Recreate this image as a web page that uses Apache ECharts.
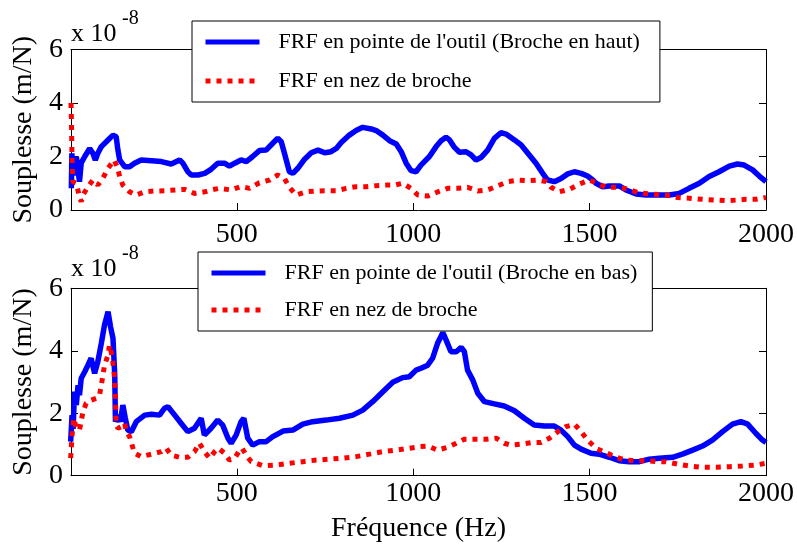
<!DOCTYPE html>
<html><head><meta charset="utf-8">
<script src="https://cdn.jsdelivr.net/npm/echarts@6/dist/echarts.min.js"></script>
<style>html,body{margin:0;padding:0;background:#fff}#c{width:797px;height:545px}</style>
</head><body><div id="c"></div>
<script>
// ---- tick labels ----
const xTicks = [500, 1000, 1500, 2000];
const yTicks = [0, 2, 4, 6];

// ---- top plot (Broche en haut), values in 1e-8 m/N ----
const topToolHz = [31,32.5,36,40,45,50,54,59,69,83,92,99,106,116,130,149,158,163,168,182,196,210,229,258,286,314,338,347,361,371,390,409,427,446,465,479,494,512,527,545,564,583,597,616,626,635,649,659,673,692,711,730,749,767,782,796,819,838,857,881,895,914,933,952,966,980,994,1008,1022,1046,1065,1079,1093,1103,1117,1131,1150,1164,1178,1192,1211,1230,1249,1263,1287,1306,1325,1348,1367,1381,1400,1419,1438,1457,1476,1494,1509,1518,1537,1556,1584,1603,1632,1660,1688,1726,1754,1782,1811,1839,1867,1896,1919,1938,1962,1981,2000];
const topToolVal = [0.81,2.12,1.3,1.25,2.0,1.5,1.06,1.76,2.0,2.3,2.12,1.87,2.12,2.37,2.55,2.8,2.74,2.24,1.87,1.62,1.62,1.75,1.87,1.84,1.81,1.72,1.87,1.75,1.43,1.31,1.31,1.37,1.52,1.75,1.75,1.64,1.75,1.87,1.81,2.0,2.22,2.24,2.43,2.68,2.55,2.12,1.43,1.37,1.56,1.9,2.14,2.24,2.14,2.18,2.3,2.52,2.8,2.97,3.09,3.03,2.97,2.8,2.59,2.47,2.18,1.75,1.47,1.43,1.68,2.0,2.37,2.59,2.72,2.62,2.34,2.16,2.18,2.06,1.87,1.96,2.24,2.68,2.89,2.84,2.62,2.43,2.12,1.75,1.37,1.12,1.06,1.18,1.35,1.43,1.37,1.27,1.12,1.0,0.87,0.9,0.9,0.75,0.6,0.56,0.56,0.56,0.62,0.81,1.0,1.25,1.43,1.64,1.72,1.68,1.5,1.27,1.06];
const topNoseHz = [30,31,33,35,45,54,59,64,78,92,106,120,135,152,161,168,177,196,215,239,267,295,328,352,380,409,427,451,484,512,536,564,593,616,635,649,668,697,725,753,782,810,838,867,895,923,947,970,994,1013,1041,1070,1098,1126,1154,1183,1211,1239,1268,1296,1325,1353,1377,1391,1414,1443,1471,1499,1518,1546,1584,1612,1636,1669,1716,1749,1782,1820,1858,1886,1915,1943,1971,2000];
const topNoseVal = [4.0,3.49,1.87,1.06,1.0,0.5,0.31,0.56,0.87,1.12,0.93,1.18,1.56,1.87,1.62,1.25,0.93,0.68,0.56,0.68,0.71,0.72,0.75,0.77,0.62,0.68,0.75,0.81,0.75,0.88,0.81,1.02,1.12,1.31,1.18,0.85,0.56,0.68,0.71,0.72,0.72,0.81,0.87,0.87,0.91,0.93,0.93,1.0,0.81,0.56,0.52,0.68,0.81,0.81,0.85,0.71,0.75,0.9,1.06,1.12,1.1,1.12,1.06,0.85,0.68,0.77,0.97,1.12,1.02,0.85,0.85,0.77,0.65,0.6,0.56,0.47,0.44,0.4,0.37,0.35,0.37,0.4,0.4,0.47];

// ---- bottom plot (Broche en bas) ----
const botToolHz = [29,33,36,40,45,50,54,59,69,78,87,97,106,116,125,135,139,142,149,154,156,163,170,177,184,191,201,215,239,258,281,295,305,324,342,361,380,399,408,427,446,460,475,484,498,512,520,531,545,564,583,602,631,659,687,715,753,791,829,857,885,914,942,970,989,1008,1022,1041,1055,1069,1084,1093,1107,1122,1136,1145,1154,1169,1183,1202,1230,1258,1287,1315,1343,1372,1400,1419,1438,1457,1476,1504,1527,1556,1584,1612,1641,1669,1697,1735,1763,1792,1820,1848,1877,1905,1929,1948,1971,1990,2000];
const botToolVal = [1.09,1.94,1.5,2.69,2.26,2.9,2.58,3.12,3.33,3.54,3.76,3.28,3.65,4.24,4.83,5.25,5.31,4.77,4.4,3.22,1.73,1.94,1.73,2.26,1.84,1.46,1.41,1.73,1.94,1.97,1.94,2.16,2.21,1.94,1.68,1.41,1.52,1.84,1.3,1.52,1.78,1.62,1.2,1.04,1.3,1.73,1.84,1.2,0.98,1.09,1.09,1.25,1.43,1.46,1.65,1.73,1.78,1.84,1.94,2.1,2.37,2.69,2.99,3.14,3.17,3.38,3.44,3.54,3.76,4.24,4.58,4.35,3.97,3.97,4.11,3.97,3.38,3.06,2.64,2.37,2.3,2.23,2.08,1.84,1.62,1.59,1.59,1.46,1.25,0.98,0.85,0.72,0.69,0.59,0.48,0.45,0.45,0.53,0.56,0.59,0.69,0.82,0.95,1.14,1.41,1.65,1.73,1.65,1.36,1.14,1.06];
const botNoseHz = [29,33,38,45,54,64,73,87,102,111,116,125,135,139,146,152,156,158,163,173,182,187,196,210,229,258,286,300,314,338,361,380,394,408,423,437,448,465,479,494,508,515,530,541,574,612,650,687,725,763,800,838,876,914,952,989,1018,1041,1069,1098,1122,1145,1178,1206,1235,1258,1277,1306,1334,1362,1386,1410,1433,1457,1476,1494,1518,1546,1575,1603,1631,1660,1688,1716,1749,1782,1820,1858,1896,1933,1971,2000];
const botNoseVal = [0.56,1.3,1.84,1.52,1.46,2.05,2.32,2.42,2.48,2.58,2.9,3.54,3.86,4.18,3.86,3.33,2.58,1.62,1.52,1.57,1.68,1.41,1.25,0.72,0.61,0.69,0.77,0.88,0.66,0.59,0.59,0.77,1.04,0.77,0.56,0.77,0.88,0.72,0.5,0.56,0.82,0.88,0.6,0.45,0.32,0.34,0.4,0.45,0.5,0.53,0.56,0.61,0.69,0.77,0.82,0.88,0.93,0.95,0.82,0.91,1.04,1.17,1.17,1.17,1.2,1.04,0.98,1.01,1.06,1.06,1.2,1.41,1.57,1.65,1.41,1.14,0.88,0.74,0.59,0.5,0.48,0.48,0.45,0.45,0.37,0.31,0.27,0.27,0.29,0.31,0.34,0.4];

const nameTopTool = "FRF en pointe de l'outil (Broche en haut)";
const nameBotTool = "FRF en pointe de l'outil (Broche en bas)";
const nameNose = "FRF en nez de broche";

const FONT = '"Liberation Serif", "Times New Roman", serif';
const pairs = (xs, ys) => xs.map((x, i) => [x, ys[i]]);

const chart = echarts.init(document.getElementById('c'), null, {renderer: 'canvas'});

const gridDefs = [
  {left: 71, width: 697, top: 49.5, height: 160.5},
  {left: 71, width: 697, top: 288.3, height: 187.4}
];
const labelMargins = [11, 4];

const xAxes = [], yAxes = [];
gridDefs.forEach((g, i) => {
  xAxes.push({
    type: 'value', gridIndex: i, min: 30, max: 2000, position: 'bottom',
    name: i === 1 ? 'Fréquence (Hz)' : '', nameLocation: 'middle', nameGap: 39,
    nameTextStyle: {fontFamily: FONT, fontSize: 28, color: '#000'},
    axisLine: {show: true, onZero: false, lineStyle: {color: '#000', width: 1}},
    axisTick: {show: true, inside: true, length: 7, customValues: xTicks, lineStyle: {color: '#000'}},
    axisLabel: {customValues: xTicks, margin: labelMargins[i], fontFamily: FONT, fontSize: 28, color: '#000',
      formatter: v => String(v)},
    splitLine: {show: false}
  });
  xAxes.push({
    type: 'value', gridIndex: i, min: 30, max: 2000, position: 'top',
    axisLine: {show: true, onZero: false, lineStyle: {color: '#000', width: 1}},
    axisTick: {show: true, inside: true, length: 7, customValues: xTicks, lineStyle: {color: '#000'}},
    axisLabel: {show: false}, splitLine: {show: false}
  });
  yAxes.push({
    type: 'value', gridIndex: i, min: 0, max: 6, interval: 2, position: 'left',
    name: 'Souplesse (m/N)', nameLocation: 'middle', nameGap: 29,
    nameTextStyle: {fontFamily: FONT, fontSize: 28, color: '#000'},
    axisLine: {show: true, onZero: false, lineStyle: {color: '#000', width: 1}},
    axisTick: {show: true, inside: true, length: 7, lineStyle: {color: '#000'}},
    axisLabel: {margin: 8, fontFamily: FONT, fontSize: 28, color: '#000',
      customValues: yTicks, formatter: v => String(v)},
    splitLine: {show: false}
  });
  yAxes.push({
    type: 'value', gridIndex: i, min: 0, max: 6, interval: 2, position: 'right',
    axisLine: {show: true, onZero: false, lineStyle: {color: '#000', width: 1}},
    axisTick: {show: true, inside: true, length: 7, lineStyle: {color: '#000'}},
    axisLabel: {show: false}, splitLine: {show: false}
  });
});

const blueStyle = {color: '#0000ff', width: 5.5, type: 'solid'};
const redStyle = {color: '#ff0000', width: 5, type: [5, 6], cap: 'butt'};

const series = [
  {name: nameTopTool, type: 'line', xAxisIndex: 0, yAxisIndex: 0, data: pairs(topToolHz, topToolVal),
   symbol: 'none', lineStyle: blueStyle, itemStyle: {color: '#0000ff'}, animation: false, z: 2},
  {name: nameNose, type: 'line', xAxisIndex: 0, yAxisIndex: 0, data: pairs(topNoseHz, topNoseVal),
   symbol: 'none', lineStyle: redStyle, itemStyle: {color: '#ff0000'}, animation: false, z: 3},
  {name: nameBotTool, type: 'line', xAxisIndex: 2, yAxisIndex: 2, data: pairs(botToolHz, botToolVal),
   symbol: 'none', lineStyle: blueStyle, itemStyle: {color: '#0000ff'}, animation: false, z: 2},
  {name: nameNose, type: 'line', xAxisIndex: 2, yAxisIndex: 2, data: pairs(botNoseHz, botNoseVal),
   symbol: 'none', lineStyle: redStyle, itemStyle: {color: '#ff0000'}, animation: false, z: 3}
];

function legendAt(left, top, names, gap, padRight) {
  return {
    data: names, orient: 'vertical', left: left, top: top,
    padding: [10, padRight, 10, 11], itemGap: gap, itemWidth: 54, itemHeight: 14,
    backgroundColor: '#fff', borderColor: '#000', borderWidth: 1, borderRadius: 0,
    selectedMode: false, lineStyle: {width: 5}, itemStyle: {opacity: 0},
    textStyle: {fontFamily: FONT, fontSize: 22, color: '#000', padding: [0, 0, 0, 14]}
  };
}

chart.setOption({
  animation: false,
  backgroundColor: '#fff',
  grid: gridDefs,
  xAxis: xAxes,
  yAxis: yAxes,
  legend: [
    legendAt(192, 21, [nameTopTool, nameNose], 17, 20),
    legendAt(198, 252, [nameBotTool, nameNose], 15, 15)
  ],
  graphic: [
    {type: 'text', left: 71, top: 21, style: {text: 'x 10', font: '26px ' + FONT, fill: '#000'}},
    {type: 'text', left: 122, top: 9, style: {text: '-8', font: '20px ' + FONT, fill: '#000'}},
    {type: 'text', left: 71, top: 256, style: {text: 'x 10', font: '26px ' + FONT, fill: '#000'}},
    {type: 'text', left: 122, top: 244, style: {text: '-8', font: '20px ' + FONT, fill: '#000'}}
  ],
  series: series
});
</script>
</body></html>
